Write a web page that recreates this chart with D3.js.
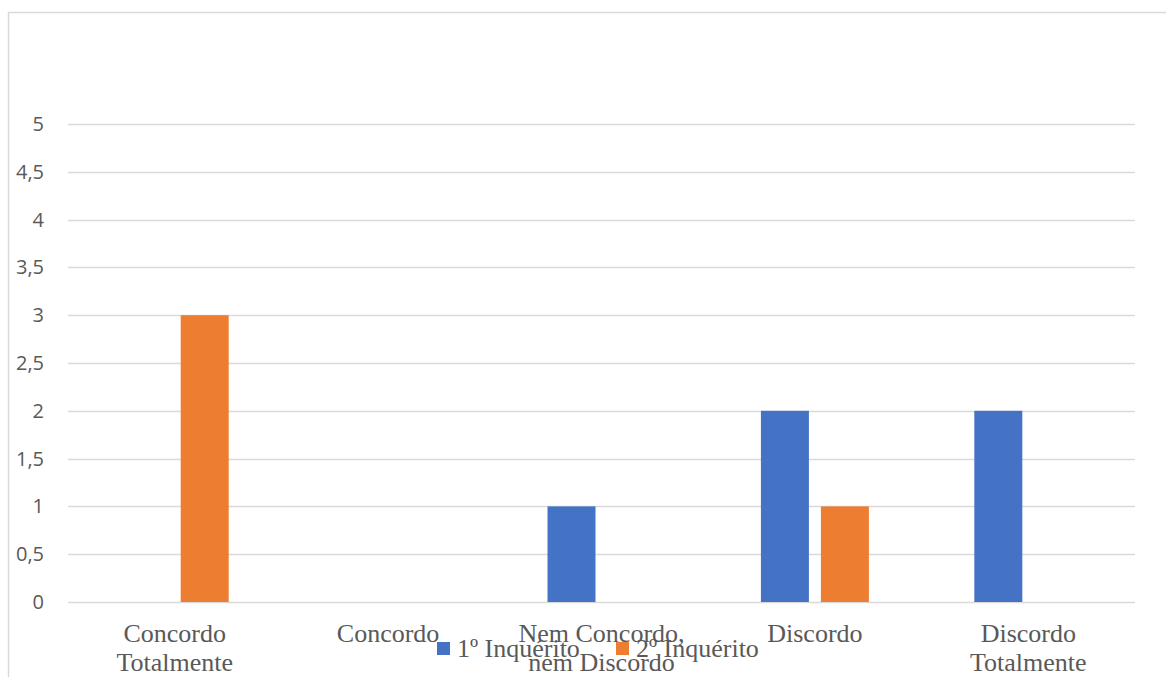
<!DOCTYPE html>
<html>
<head>
<meta charset="utf-8">
<script src="https://cdn.jsdelivr.net/npm/d3@7"></script>
<style>
  html, body { margin: 0; padding: 0; background: #fff; }
  svg { display: block; }
</style>
</head>
<body>
<svg id="chart" width="1166" height="677"></svg>
<script>
// Answer categories (two-line labels)
const categories = [
  ["Concordo", "Totalmente"],
  ["Concordo"],
  ["Nem Concordo,", "nem Discordo"],
  ["Discordo"],
  ["Discordo", "Totalmente"]
];
const seriesNames = ["1º Inquérito", "2º Inquérito"];
const inquerito1 = [0, 0, 1, 2, 2];
const inquerito2 = [3, 0, 0, 1, 0];
const yTicks = [0, 0.5, 1, 1.5, 2, 2.5, 3, 3.5, 4, 4.5, 5];
const colors = ["#4472C4", "#ED7D31"];

const svg = d3.select("#chart");
const plot = { left: 68, right: 1135, top: 124, bottom: 602 };

// Chart frame
svg.append("rect")
  .attr("x", 8.5).attr("y", 12.5)
  .attr("width", 1170).attr("height", 700)
  .attr("fill", "#fff").attr("stroke", "#d9d9d9").attr("stroke-width", 1.5);

const y = d3.scaleLinear().domain([0, 5]).range([plot.bottom, plot.top]);
const x0 = d3.scaleBand().domain(d3.range(categories.length)).range([plot.left, plot.right])
  .paddingInner(0.494).paddingOuter(0.247);
const x1 = d3.scaleBand().domain([0, 1]).range([0, x0.bandwidth()]).paddingInner(0.2);

// Gridlines
svg.append("g").selectAll("line").data(yTicks).join("line")
  .attr("x1", plot.left).attr("x2", plot.right)
  .attr("y1", d => Math.round(y(d)) + 0.5).attr("y2", d => Math.round(y(d)) + 0.5)
  .attr("stroke", "#d9d9d9").attr("stroke-width", 1.5);

// Y axis labels
const fmt = d => String(d).replace(".", ",");
svg.append("g").selectAll("text").data(yTicks).join("text")
  .attr("x", 44).attr("y", d => y(d) + 7)
  .attr("text-anchor", "end")
  .attr("font-family", "'Open Sans', 'Noto Sans', sans-serif")
  .attr("font-size", 20).attr("fill", "#595959")
  .text(fmt);

// Bars
const series = [inquerito1, inquerito2];
series.forEach((vals, si) => {
  svg.append("g").selectAll("rect").data(vals).join("rect")
    .attr("x", (d, i) => x0(i) + x1(si))
    .attr("width", x1.bandwidth())
    .attr("y", d => y(d))
    .attr("height", d => y(0) - y(d))
    .attr("fill", colors[si]);
});

// Category labels
const catG = svg.append("g");
categories.forEach((lines, i) => {
  const cx = x0(i) + x0.bandwidth() / 2;
  const t = catG.append("text")
    .attr("x", cx).attr("y", 642)
    .attr("text-anchor", "middle")
    .attr("font-family", "'Liberation Serif', 'Times New Roman', serif")
    .attr("font-size", 26).attr("fill", "#595959");
  lines.forEach((ln, j) => {
    t.append("tspan").attr("x", cx).attr("dy", j === 0 ? 0 : 29).text(ln);
  });
});

// Legend
const legend = svg.append("g");
const legendX = [437, 616];
seriesNames.forEach((name, i) => {
  legend.append("rect")
    .attr("x", legendX[i]).attr("y", 642).attr("width", 13).attr("height", 13)
    .attr("fill", colors[i]);
  legend.append("text")
    .attr("x", legendX[i] + 20).attr("y", 657)
    .attr("font-family", "'Liberation Serif', 'Times New Roman', serif")
    .attr("font-size", 26).attr("fill", "#595959")
    .text(name);
});
</script>
</body>
</html>
